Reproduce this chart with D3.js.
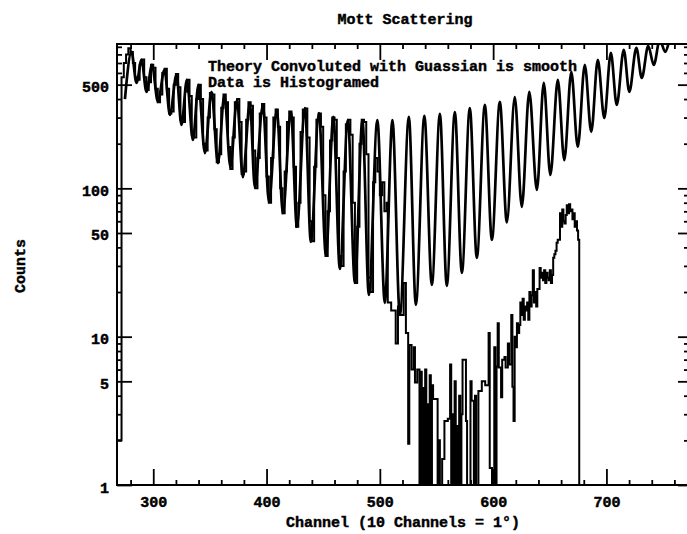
<!DOCTYPE html>
<html>
<head>
<meta charset="utf-8">
<script src="https://cdn.jsdelivr.net/npm/d3@7"></script>
<style>
  html, body { margin: 0; padding: 0; background: #fff; }
  svg { display: block; }
  text { font-family: "Liberation Mono", "DejaVu Sans Mono", monospace; font-weight: bold; font-size: 15px; fill: #000; stroke: #000; stroke-width: 0.45px; }
</style>
</head>
<body>
<svg id="chart" width="687" height="534"></svg>
<script>
// ---- Text ----
const chartTitle = "Mott Scattering";
const xAxisLabel = "Channel (10 Channels = 1\u00B0)";
const yAxisLabel = "Counts";
const noteLines = ["Theory Convoluted with Guassian is smooth", "Data is Histogramed"];

// ---- Axis ticks ----
const xTicks = [300, 400, 500, 600, 700];
const xMinorTicks = [280, 320, 340, 360, 380, 420, 440, 460, 480, 520, 540, 560, 580, 620, 640, 660, 680, 720, 740, 760];
const yTicks = [1, 5, 10, 50, 100, 500];
const yMinorTicks = [2, 3, 4, 6, 7, 8, 9, 20, 30, 40, 60, 70, 80, 90, 200, 300, 400, 600, 700, 800, 900];

// ---- Theory (convoluted with Gaussian): channel / counts at turning points ----
const theoryChannel = [275.0, 280.8, 285.2, 289.6, 294.0, 298.9, 304.1, 309.9, 314.7, 320.5,
  324.9, 329.7, 335.0, 339.9, 345.6, 351.4, 357.1, 362.8, 368.1, 373.9,
  379.1, 385.3, 389.7, 396.8, 402.1, 409.1, 414.4, 421.5, 426.8, 433.9,
  439.1, 446.2, 452.4, 459.0, 464.7, 471.8, 478.0, 484.6, 490.3, 497.8,
  504.4, 511.1, 517.7, 525.6, 531.8, 539.3, 545.9, 553.0, 559.1, 566.2,
  572.4, 579.4, 585.6, 592.7, 598.9, 605.9, 612.1, 619.1, 625.3, 631.9,
  638.6, 644.7, 650.5, 657.1, 662.8, 669.0, 674.7, 680.9, 686.6, 692.4,
  698.1, 703.9, 709.1, 715.3, 720.2, 726.4, 731.2, 736.9, 741.8, 747.1,
  751.9, 757.7, 762.1, 768.3, 773.6];
const theoryCounts = [400, 831, 514, 734, 447, 679, 383, 629, 313, 582,
  268, 538, 212, 498, 173, 447, 148, 426, 139, 394,
  119, 377, 101, 365, 81, 338, 68, 327, 55, 348,
  43.5, 322, 35.6, 303, 28.6, 289, 23, 289, 19.1, 289,
  16.9, 289, 14, 303, 16.4, 308, 22.3, 318, 22, 327,
  26.9, 348, 34, 365, 44.9, 383, 59, 413, 75, 447,
  97.5, 514, 123, 538, 155, 609, 190, 679, 240, 734,
  298, 818, 365, 858, 447, 885, 555, 912, 679, 1002,
  831, 1082, 971, 1170, 1082];

// ---- Measured data histogram: bin left edge (channel) / counts ----
const dataChannel = [268,
  272, 274, 276, 278, 280, 282, 284, 286, 288, 290, 292, 294, 296, 298, 300, 302, 304, 306, 308, 310,
  312, 314, 316, 318, 320, 322, 324, 326, 328, 330, 332, 334, 336, 338, 340, 342, 344, 346, 348, 350,
  352, 354, 356, 358, 360, 362, 364, 366, 368, 370, 372, 374, 376, 378, 380, 382, 384, 386, 388, 390,
  392, 394, 396, 398, 400, 402, 404, 406, 408, 410, 412, 414, 416, 418, 420, 422, 424, 426, 428, 430,
  432, 434, 436, 438, 440, 442, 444, 446, 448, 450, 452, 454, 456, 458, 460, 462, 464, 466, 468, 470,
  472, 474, 476, 478, 480, 482, 484, 486, 488, 490, 492, 494, 496, 498, 500, 502, 504, 506,
  507, 510, 514, 516, 518, 521, 523, 525, 526, 528, 530, 531, 533,
  535, 536, 537, 538, 539, 540, 541, 542, 543, 544, 545, 546, 547, 551, 552, 553, 555, 557, 560, 562,
  563, 564, 565, 566, 567, 568, 569, 570, 571, 572, 573, 576, 577, 580, 581, 583, 584, 585, 587, 590,
  593, 596, 597, 599, 601, 602, 603, 604, 605, 607, 608, 610, 611, 613, 614, 616, 617, 618,
  619, 620, 621, 622, 623, 624, 625, 626, 627, 628, 629, 630, 631, 632, 633, 634, 635, 636, 637, 638,
  639, 641, 642, 643, 644, 645, 646, 647, 648, 649, 650, 651, 652, 653, 654, 655, 656, 657, 659, 660,
  661, 662, 663, 664, 665, 666, 667, 668, 669, 670, 671, 672, 673, 674, 675, 676, 772];
const dataCounts = [2,
  560, 700, 800, 880, 830, 700, 560, 540, 680, 740, 560, 460, 520, 680, 650, 470, 380, 430, 600, 640,
  470, 320, 330, 500, 590, 480, 290, 280, 450, 540, 420, 230, 220, 400, 500, 400, 200, 180, 300, 440,
  430, 250, 150, 170, 350, 430, 380, 190, 135, 220, 380, 400, 280, 125, 130, 290, 380, 360, 180, 100,
  160, 320, 370, 300, 120, 80, 160, 300, 340, 260, 100, 68, 130, 280, 330, 300, 140, 55, 80, 240,
  340, 345, 220, 60, 44, 140, 290, 320, 260, 90, 35, 70, 210, 300, 290, 160, 35, 30, 130, 270,
  290, 230, 80, 23, 55, 200, 290, 280, 170, 25, 20, 110, 160, 130, 90, 110, 70, 80,
  17, 15, 9, 16, 14, 23, 10.6, 1.9, 8.8, 6, 8.5, 4.9, 6,
  1, 5.8, 1, 4.5, 1, 6, 1, 3.5, 1, 5.5, 1, 4.7, 3.8, 1, 2, 1, 1.5, 2.7, 2.8, 6.5,
  1, 3, 1, 5, 1, 2.5, 1, 4, 1, 3, 7, 2.7, 1, 5, 3.7, 1, 4, 1, 4.3, 5,
  4.7, 10.6, 1.3, 1, 8.5, 1, 6.3, 12.3, 6.2, 3.9, 7, 7.3, 6.2, 9, 6.5, 14, 4.6, 2.7,
  10, 8.5, 12.3, 10.6, 12, 17, 14, 18, 13, 16, 15, 17, 13, 20, 16, 19, 28, 17, 20, 16,
  21, 29, 25, 27, 24, 28, 23, 27, 25, 24, 28, 23, 26, 34, 36, 38, 43, 45, 68, 55,
  72, 60, 58, 66, 77, 68, 78, 70, 72, 62, 68, 55, 60, 52, 45, 1, 1];

// ---- Layout ----
const plot = { left: 117, right: 688, top: 44, bottom: 485 };

const svg = d3.select("#chart");

const x = d3.scaleLinear().domain([268, 772]).range([plot.left, plot.right]);
const y = d3.scaleLog().domain([1, 940]).range([plot.bottom, plot.top]);

svg.append("defs").append("clipPath").attr("id", "plot-clip")
  .append("rect")
  .attr("x", plot.left).attr("y", plot.top)
  .attr("width", plot.right - plot.left).attr("height", plot.bottom - plot.top);

// Tick marks on all four sides, pointing inward
function tickRow(axis, transform) {
  const g = svg.append("g").attr("transform", transform).call(axis);
  g.select(".domain").remove();
  g.selectAll("line").attr("stroke", "#000").attr("stroke-width", 1.8);
  g.selectAll("text").remove();
  return g;
}
tickRow(d3.axisRight(y).tickValues(yTicks).tickSize(15), `translate(${plot.left},0)`);
tickRow(d3.axisRight(y).tickValues(yMinorTicks).tickSize(5), `translate(${plot.left},0)`);
tickRow(d3.axisLeft(y).tickValues(yTicks).tickSize(10), `translate(${plot.right},0)`);
tickRow(d3.axisLeft(y).tickValues(yMinorTicks).tickSize(4), `translate(${plot.right},0)`);
tickRow(d3.axisTop(x).tickValues(xTicks).tickSize(16), `translate(0,${plot.bottom})`);
tickRow(d3.axisTop(x).tickValues(xMinorTicks).tickSize(5), `translate(0,${plot.bottom})`);
tickRow(d3.axisBottom(x).tickValues(xTicks).tickSize(16), `translate(0,${plot.top})`);
tickRow(d3.axisBottom(x).tickValues(xMinorTicks).tickSize(5), `translate(0,${plot.top})`);

// Tick labels
const yLab = svg.append("g").attr("transform", `translate(${plot.left},0)`)
  .call(d3.axisLeft(y).tickValues(yTicks).tickSize(0).tickPadding(8).tickFormat(d3.format("d")));
yLab.select(".domain").remove();
yLab.selectAll("text").attr("dy", "7px").attr("fill", "#000");

const xLab = svg.append("g").attr("transform", `translate(0,${plot.bottom})`)
  .call(d3.axisBottom(x).tickValues(xTicks).tickSize(0).tickFormat(d3.format("d")));
xLab.select(".domain").remove();
xLab.selectAll("text").attr("y", 22).attr("dy", 0).attr("fill", "#000");
svg.selectAll("g").attr("font-family", null).attr("font-size", null);

// Frame
svg.append("rect")
  .attr("x", plot.left).attr("y", plot.top)
  .attr("width", plot.right - plot.left).attr("height", plot.bottom - plot.top)
  .attr("fill", "none").attr("stroke", "#000").attr("stroke-width", 2);

// Curves
const layer = svg.append("g").attr("clip-path", "url(#plot-clip)");

const theory = theoryChannel.map((c, i) => [c, theoryCounts[i]]);
const data = dataChannel.map((c, i) => [c, dataCounts[i]]);

layer.append("path")
  .attr("d", d3.line().x(d => x(d[0])).y(d => y(d[1])).curve(d3.curveMonotoneX)(theory))
  .attr("fill", "none").attr("stroke", "#000").attr("stroke-width", 2.7)
  .attr("stroke-linejoin", "round");

layer.append("path")
  .attr("d", d3.line().x(d => x(d[0])).y(d => y(d[1])).curve(d3.curveStepAfter)(data))
  .attr("fill", "none").attr("stroke", "#000").attr("stroke-width", 2);

// Titles and note
svg.append("text").attr("x", 405).attr("y", 24).attr("text-anchor", "middle").text(chartTitle);
svg.append("text").attr("x", 403).attr("y", 527).attr("text-anchor", "middle").text(xAxisLabel);
svg.append("text").attr("transform", "translate(25,266) rotate(-90)").attr("text-anchor", "middle").text(yAxisLabel);
noteLines.forEach((line, i) => {
  svg.append("text").attr("x", 208).attr("y", 71 + i * 16).text(line);
});
</script>
</body>
</html>
